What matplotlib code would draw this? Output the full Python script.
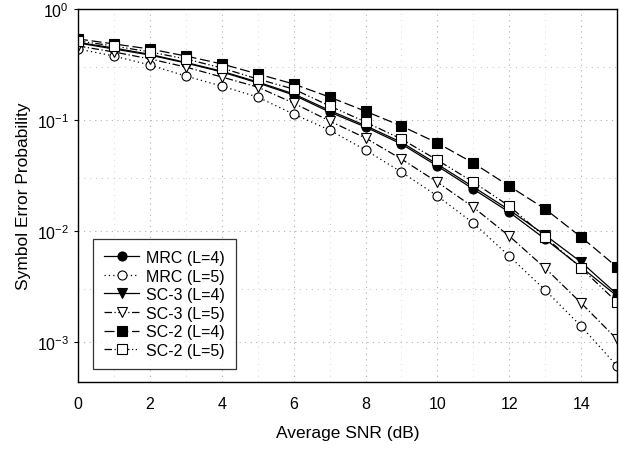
import matplotlib

matplotlib.use("Agg")
import matplotlib.pyplot as plt
import numpy as np

plt.rcParams["font.family"] = ["Liberation Sans", "DejaVu Sans"]
plt.rcParams["mathtext.fontset"] = "custom"
plt.rcParams["mathtext.rm"] = "Liberation Sans"

snr_db = np.arange(0, 16)

mrc_l4 = [0.494, 0.436, 0.385, 0.326, 0.271, 0.216, 0.168, 0.118, 0.0865, 0.0608,
          0.0385, 0.0239, 0.0148, 0.00847, 0.00474, 0.0026]
mrc_l5 = [0.436, 0.377, 0.313, 0.249, 0.202, 0.161, 0.113, 0.0813, 0.0537, 0.0340,
          0.0207, 0.0118, 0.00595, 0.00294, 0.00139, 0.00061]
sc3_l4 = [0.50, 0.445, 0.39, 0.33, 0.275, 0.22, 0.172, 0.122, 0.089, 0.063,
          0.040, 0.025, 0.0155, 0.0092, 0.00526, 0.0027]
sc3_l5 = [0.464, 0.410, 0.355, 0.300, 0.244, 0.198, 0.142, 0.098, 0.0689, 0.0445,
          0.0276, 0.0164, 0.00902, 0.00464, 0.00225, 0.00106]
sc2_l4 = [0.537, 0.484, 0.436, 0.377, 0.320, 0.260, 0.211, 0.161, 0.120, 0.0883,
          0.0621, 0.0410, 0.0254, 0.0158, 0.00883, 0.00474]
sc2_l5 = [0.515, 0.464, 0.410, 0.355, 0.294, 0.234, 0.190, 0.134, 0.096, 0.0674,
          0.0436, 0.0276, 0.0168, 0.00883, 0.00464, 0.00229]

series = [
    ("MRC (L=4)", mrc_l4, "-", "o", "black"),
    ("MRC (L=5)", mrc_l5, (0, (1, 2.5)), "o", "white"),
    ("SC-3 (L=4)", sc3_l4, "-", "v", "black"),
    ("SC-3 (L=5)", sc3_l5, (0, (6, 2, 1, 2)), "v", "white"),
    ("SC-2 (L=4)", sc2_l4, (0, (8, 3)), "s", "black"),
    ("SC-2 (L=5)", sc2_l5, (0, (6, 2, 1, 2, 1, 2)), "s", "white"),
]

fig = plt.figure(figsize=(6.19, 4.52), dpi=100)
ax = fig.add_axes([0.126, 0.153, 0.871, 0.825])

for label, values, style, marker, face in series:
    ax.plot(snr_db, values, linestyle=style, color="black", linewidth=0.9,
            marker=marker, markersize=6.5, markerfacecolor=face,
            markeredgecolor="black", markeredgewidth=0.8, label=label)

ax.set_yscale("log")
ax.set_xlim(0, 15)
ax.set_ylim(4.4e-4, 1.0)
ax.set_xticks([0, 2, 4, 6, 8, 10, 12, 14])
ax.set_yticks([1e-3, 1e-2, 1e-1, 1e0])
ax.set_yticklabels([r"$10^{-3}$", r"$10^{-2}$", r"$10^{-1}$", r"$10^{0}$"])
ax.yaxis.set_minor_locator(matplotlib.ticker.NullLocator())
ax.tick_params(axis="both", labelsize=11.5, length=3, width=0.8, direction="out")
ax.tick_params(axis="x", length=0, pad=10)

ax.grid(True, which="major", color="#b0b0b0", linestyle=(0, (1, 4)), linewidth=0.8)
for y in [3e-1, 3e-2, 3e-3]:
    ax.axhline(y, color="#c0c0c0", linestyle=(0, (1, 5)), linewidth=0.7, zorder=0)
for x in [1, 3, 5, 7, 9, 11, 13]:
    ax.axvline(x, color="#c8c8c8", linestyle=(0, (1, 6)), linewidth=0.6, zorder=0)

for spine in ax.spines.values():
    spine.set_linewidth(1.0)

ax.set_xlabel("Average SNR (dB)", fontsize=12.5, labelpad=10)
ax.set_ylabel("Symbol Error Probability", fontsize=12.5, labelpad=4)

leg = ax.legend(loc="lower left", bbox_to_anchor=(0.028, 0.035), borderaxespad=0,
                fontsize=11.5, frameon=True, fancybox=False, edgecolor="black",
                handlelength=2.2, handletextpad=0.4, borderpad=0.7, labelspacing=0.22)
leg.get_frame().set_linewidth(0.9)

fig.savefig("out.png", dpi=100, facecolor="white")
